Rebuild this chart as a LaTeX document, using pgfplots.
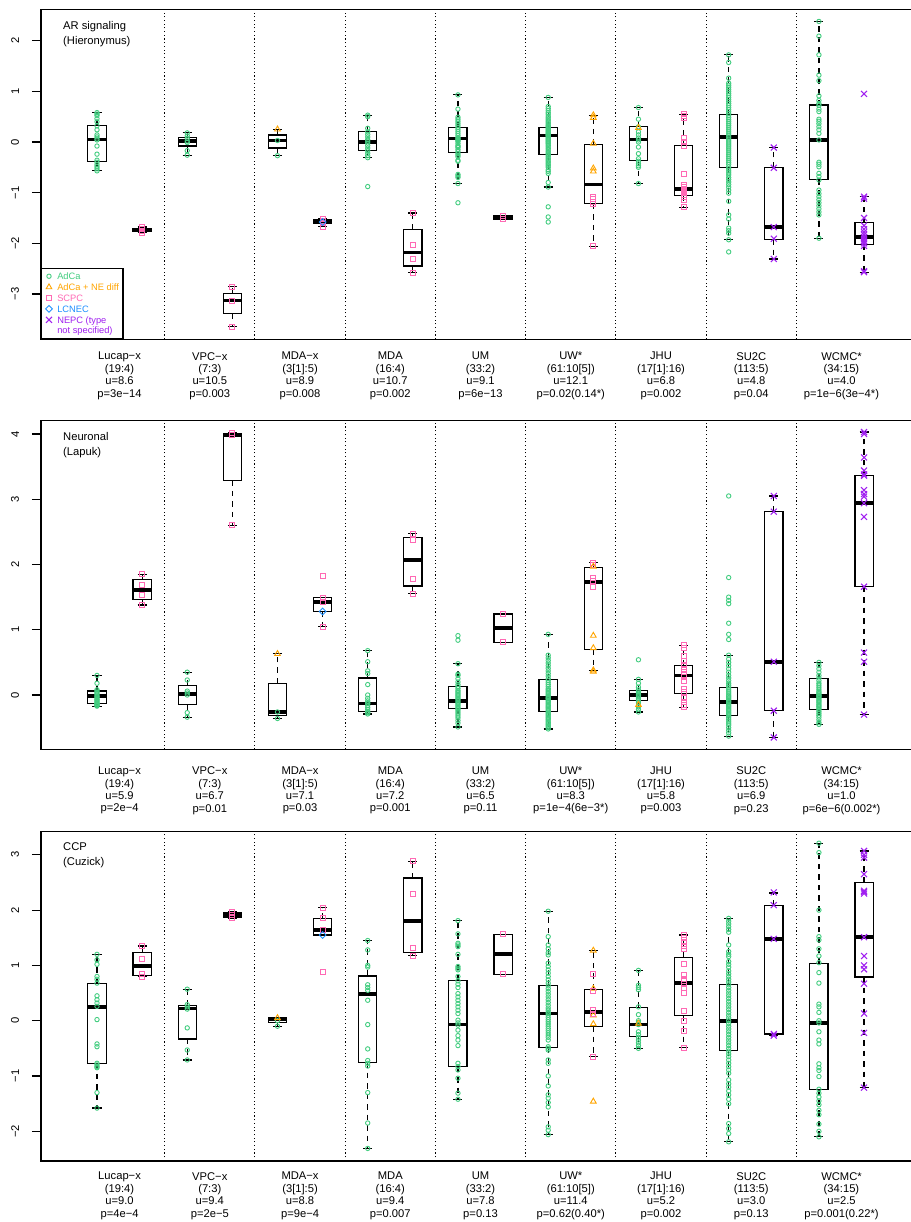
\documentclass[border=0pt]{standalone}
\usepackage{fontspec}
\setmainfont{Liberation Sans}
\usepackage{pgfplots}
\pgfplotsset{compat=1.18}
\usepgfplotslibrary{statistics}
\definecolor{cg}{HTML}{43CD80}
\definecolor{co}{HTML}{FFA500}
\definecolor{cp}{HTML}{FF69B4}
\definecolor{cb}{HTML}{1E90FF}
\definecolor{cv}{HTML}{A020F0}
\newcommand\tickf{\fontsize{11.2}{13}\selectfont}
\newcommand\lblf{\fontsize{11.2}{12.4}\selectfont}
\newcommand\titf{\fontsize{11.2}{15}\selectfont}
\newcommand\legf{\fontsize{9.3}{10.7}\selectfont}
\newcommand\ls{\rule[-3pt]{0pt}{11pt}}
\newcommand\pts[3]{\addplot[#1,forget plot] table[header=false,x expr=#2,y index=0,row sep=\\]{#3};}
\newcommand\bx[6]{\addplot[black,forget plot,boxplot prepared={draw position=#1,median=#2,upper quartile=#3,lower quartile=#4,upper whisker=#5,lower whisker=#6}] coordinates {};}
\pgfplotsset{
 pg/.style={only marks, mark=o, mark size=2.2pt, color=cg, mark options={line width=0.9pt, solid}},
 po/.style={only marks, mark=triangle, mark size=3.3pt, color=co, mark options={line width=0.9pt, solid}},
 pp/.style={only marks, mark=square, mark size=2.5pt, color=cp, mark options={line width=0.9pt, solid}},
 pb/.style={only marks, mark=square, mark size=2.4pt, color=cb, mark options={line width=0.9pt, rotate=45, solid}},
 pv/.style={only marks, mark=x, mark size=4.2pt, color=cv, mark options={line width=1.1pt, solid}},
 panel/.style={
  scale only axis, width=871pt, xmin=-0.241, xmax=19.063,
  axis line style={line width=1.2pt, black},
  tick pos=left, tick align=outside, major tick length=9pt,
  ytick style={line width=1.2pt, black},
  xtick={1.5,3.5,5.5,7.5,9.5,11.5,13.5,15.5,17.5},
  xtick style={draw=none},
  extra x ticks={2.5,4.5,6.5,8.5,10.5,12.5,14.5,16.5},
  extra x tick labels={},
  extra x tick style={grid=major, major grid style={black, line width=1.1pt, dash pattern=on 1.1pt off 2.6pt}},
  yticklabel style={xshift=-12.7pt, rotate=90, anchor=south, font=\tickf, inner sep=0pt},
  xticklabel style={align=center, anchor=north, font=\lblf, inner sep=0pt},
  boxplot/draw direction=y,
  boxplot/box extend=0.405, boxplot/whisker extend=0.2,
  boxplot/every box/.style={draw=black, line width=1.2pt, fill=none},
  boxplot/every median/.style={draw=black, line width=3.8pt},
  boxplot/draw/lower whisker/.code={%
   \draw[black, line width=1.2pt, dash pattern=on 5.5pt off 5pt]
     (boxplot box cs:\pgfplotsboxplotvalue{lower quartile},0.5) -- (boxplot box cs:\pgfplotsboxplotvalue{lower whisker},0.5);
   \draw[black, line width=1.2pt]
     (boxplot whisker cs:\pgfplotsboxplotvalue{lower whisker},0) -- (boxplot whisker cs:\pgfplotsboxplotvalue{lower whisker},1);
  },
  boxplot/draw/upper whisker/.code={%
   \draw[black, line width=1.2pt, dash pattern=on 5.5pt off 5pt]
     (boxplot box cs:\pgfplotsboxplotvalue{upper quartile},0.5) -- (boxplot box cs:\pgfplotsboxplotvalue{upper whisker},0.5);
   \draw[black, line width=1.2pt]
     (boxplot whisker cs:\pgfplotsboxplotvalue{upper whisker},0) -- (boxplot whisker cs:\pgfplotsboxplotvalue{upper whisker},1);
  },
 }
}
\begin{document}
\begin{tikzpicture}
\path[use as bounding box] (0pt,0pt) rectangle (910pt,1222pt);
% ================= Panel 1 =================
\begin{axis}[panel, at={(41pt,882.7pt)}, anchor=south west, height=330pt,
  ymin=-3.895, ymax=2.62, ytick={-3,-2,-1,0,1,2}, yticklabels={−3,−2,−1,0,1,2},
  xticklabel style={yshift=-3.7pt},
  xticklabels={{Lucap−x\\(19:4)\\u=8.6\\p=3e−14},{VPC−x\\(7:3)\\u=10.5\\p=0.003},{MDA−x\\(3[1]:5)\\u=8.9\\p=0.008},{MDA\\(16:4)\\u=10.7\\p=0.002},{UM\\(33:2)\\u=9.1\\p=6e−13},{UW*\\(61:10[5])\\u=12.1\\p=0.02(0.14*)},{JHU\\(17[1]:16)\\u=6.8\\p=0.002},{SU2C\\(113:5)\\u=4.8\\p=0.04},{WCMC*\\(34:15)\\u=4.0\\p=1e−6(3e−4*)}},
  legend style={at={(0,0)}, anchor=south west, draw=black, line width=1.2pt, fill=white, font=\legf, inner xsep=4pt, inner ysep=3pt, row sep=1pt, column sep=4.7pt, cells={anchor=west}, nodes={inner sep=0.2pt}},
  legend image code/.code={\draw[#1] plot coordinates {(0pt,0pt)};},
]
\pts{pg}{1}{0.58\\0.55\\0.52\\0.46\\0.40\\0.32\\0.24\\0.14\\0.10\\0.06\\0.04\\-0.08\\-0.24\\-0.36\\-0.40\\-0.45\\-0.49\\-0.53\\-0.57\\}
\pts{pp}{2}{-1.68\\-1.72\\-1.75\\-1.79\\}
\pts{pg}{3}{0.18\\0.12\\0.07\\0.02\\-0.01\\-0.17\\-0.26\\}
\pts{pp}{4}{-2.86\\-3.13\\-3.65\\}
\pts{pg}{5}{0.03\\-0.27\\}
\pts{po}{5}{0.25\\}
\pts{pp}{6}{-1.51\\-1.55\\-1.60\\-1.67\\}
\pts{pb}{6}{-1.58\\}
\pts{pg}{7}{0.53\\0.50\\0.27\\0.20\\0.15\\0.10\\0.05\\0.02\\-0.02\\-0.07\\-0.12\\-0.17\\-0.22\\-0.27\\-0.31\\-0.88\\}
\pts{pp}{8}{-1.40\\-2.04\\-2.31\\-2.58\\}
\pts{pg}{9}{0.93\\0.65\\0.49\\0.45\\0.41\\0.37\\0.33\\0.29\\0.25\\0.21\\0.17\\0.13\\0.09\\0.07\\0.05\\0.03\\0.01\\-0.03\\-0.07\\-0.09\\-0.11\\-0.15\\-0.19\\-0.23\\-0.26\\-0.29\\-0.36\\-0.38\\-0.64\\-0.67\\-0.70\\-0.82\\-1.20\\}
\pts{pp}{10}{-1.46\\-1.52\\}
\pts{pg}{11}{0.88\\0.70\\0.66\\0.62\\0.58\\0.55\\0.51\\0.48\\0.45\\0.42\\0.39\\0.36\\0.33\\0.31\\0.29\\0.27\\0.25\\0.23\\0.21\\0.19\\0.17\\0.15\\0.14\\0.13\\0.12\\0.10\\0.08\\0.06\\0.04\\0.02\\0.0\\-0.02\\-0.04\\-0.07\\-0.10\\-0.13\\-0.16\\-0.19\\-0.22\\-0.24\\-0.26\\-0.29\\-0.32\\-0.35\\-0.38\\-0.41\\-0.44\\-0.47\\-0.50\\-0.55\\-0.58\\-0.62\\-0.80\\-0.89\\-1.28\\-1.48\\-1.58\\}
\pts{po}{12}{0.53\\0.48\\-0.03\\-0.52\\-0.58\\}
\pts{pp}{12}{-1.08\\-1.13\\-1.18\\-1.22\\-2.06\\}
\pts{pg}{13}{0.68\\0.45\\0.30\\0.20\\0.14\\0.08\\0.04\\0.0\\-0.10\\-0.23\\-0.33\\-0.38\\-0.43\\-0.47\\-0.50\\-0.82\\}
\pts{po}{13}{0.28\\}
\pts{pp}{14}{0.55\\0.51\\0.47\\0.07\\0.01\\-0.07\\-0.64\\-0.85\\-0.89\\-0.93\\-0.96\\-1.00\\-1.04\\-1.08\\-1.15\\-1.29\\}
\pts{pg}{15}{1.72\\1.57\\1.26\\1.16\\1.12\\1.08\\1.04\\1.0\\0.96\\0.92\\0.88\\0.84\\0.80\\0.76\\0.72\\0.68\\0.64\\0.60\\0.56\\0.52\\0.48\\0.44\\0.40\\0.36\\0.32\\0.28\\0.24\\0.20\\0.16\\0.12\\0.08\\0.04\\0.0\\-0.04\\-0.08\\-0.12\\-0.16\\-0.20\\-0.24\\-0.28\\-0.32\\-0.36\\-0.40\\-0.44\\-0.49\\-0.53\\-0.57\\-0.61\\-0.65\\-0.70\\-0.74\\-0.79\\-0.84\\-0.89\\-0.95\\-1.01\\-1.17\\-1.44\\-1.52\\-1.70\\-1.75\\-1.80\\-1.93\\-2.17\\}
\pts{pv}{16}{-0.11\\-0.51\\-1.68\\-1.91\\-2.31\\}
\pts{pg}{17}{2.38\\2.09\\1.72\\1.32\\1.21\\0.91\\0.82\\0.76\\0.72\\0.65\\0.60\\0.45\\0.41\\0.36\\0.30\\0.24\\0.17\\0.04\\-0.40\\-0.44\\-0.49\\-0.62\\-0.68\\-0.75\\-0.95\\-1.02\\-1.08\\-1.14\\-1.20\\-1.26\\-1.32\\-1.38\\-1.44\\-1.90\\}
\pts{pv}{18}{0.95\\-1.08\\-1.12\\-1.50\\-1.65\\-1.72\\-1.78\\-1.83\\-1.88\\-1.92\\-1.96\\-2.00\\-2.05\\-2.55\\-2.57\\}
\bx{1}{0.05}{0.32}{-0.39}{0.58}{-0.57}
\bx{2}{-1.73}{-1.70}{-1.77}{-1.68}{-1.79}
\bx{3}{0.02}{0.09}{-0.08}{0.18}{-0.26}
\bx{4}{-3.13}{-2.99}{-3.39}{-2.86}{-3.65}
\bx{5}{0.03}{0.14}{-0.12}{0.25}{-0.27}
\bx{6}{-1.57}{-1.54}{-1.61}{-1.51}{-1.67}
\bx{7}{0.0}{0.20}{-0.17}{0.53}{-0.31}
\bx{8}{-2.18}{-1.72}{-2.45}{-1.40}{-2.58}
\bx{9}{0.07}{0.29}{-0.20}{0.93}{-0.82}
\bx{10}{-1.49}{-1.46}{-1.52}{-1.46}{-1.52}
\bx{11}{0.13}{0.28}{-0.24}{0.88}{-0.89}
\bx{12}{-0.84}{-0.05}{-1.22}{0.53}{-2.06}
\bx{13}{0.05}{0.30}{-0.36}{0.68}{-0.82}
\bx{14}{-0.93}{-0.07}{-1.06}{0.55}{-1.29}
\bx{15}{0.10}{0.55}{-0.50}{1.72}{-1.93}
\bx{16}{-1.68}{-0.51}{-1.92}{-0.11}{-2.31}
\bx{17}{0.04}{0.73}{-0.74}{2.38}{-1.90}
\bx{18}{-1.88}{-1.59}{-2.03}{-1.08}{-2.57}
\addlegendimage{pg}\addlegendentry{\ls\textcolor{cg}{AdCa}}
\addlegendimage{po}\addlegendentry{\ls\textcolor{co}{AdCa + NE diff}}
\addlegendimage{pp}\addlegendentry{\ls\textcolor{cp}{SCPC}}
\addlegendimage{pb}\addlegendentry{\ls\textcolor{cb}{LCNEC}}
\addlegendimage{pv}\addlegendentry{\ls\textcolor{cv}{NEPC (type}}
\addlegendimage{empty legend}\addlegendentry{\ls\textcolor{cv}{not specified)}}
\node[anchor=north west, align=left, font=\titf, inner sep=0pt, xshift=22pt, yshift=-11.7pt] at (rel axis cs:0,1) {AR signaling\\(Hieronymus)};
\end{axis}
% ================= Panel 2 =================
\begin{axis}[panel, at={(41pt,472.5pt)}, anchor=south west, height=328.8pt,
  ymin=-0.835, ymax=4.204, ytick={0,1,2,3,4}, yticklabels={0,1,2,3,4},
  xticklabel style={yshift=-8.3pt},
  xticklabels={{Lucap−x\\(19:4)\\u=5.9\\p=2e−4},{VPC−x\\(7:3)\\u=6.7\\p=0.01},{MDA−x\\(3[1]:5)\\u=7.1\\p=0.03},{MDA\\(16:4)\\u=7.2\\p=0.001},{UM\\(33:2)\\u=6.5\\p=0.11},{UW*\\(61:10[5])\\u=8.3\\p=1e−4(6e−3*)},{JHU\\(17[1]:16)\\u=5.8\\p=0.003},{SU2C\\(113:5)\\u=6.9\\p=0.23},{WCMC*\\(34:15)\\u=1.0\\p=6e−6(0.002*)}},
]
\pts{pg}{1}{0.30\\0.18\\0.08\\0.06\\0.04\\0.02\\0.0\\-0.02\\-0.03\\-0.05\\-0.07\\-0.08\\-0.10\\-0.12\\-0.13\\-0.14\\-0.15\\-0.16\\-0.17\\}
\pts{pp}{2}{1.85\\1.68\\1.53\\1.38\\}
\pts{pg}{3}{0.35\\0.23\\0.06\\0.03\\0.0\\-0.27\\-0.34\\}
\pts{pp}{4}{4.02\\3.98\\2.60\\}
\pts{pg}{5}{-0.26\\-0.36\\}
\pts{po}{5}{0.63\\}
\pts{pp}{6}{1.83\\1.49\\1.43\\1.05\\}
\pts{pb}{6}{1.28\\}
\pts{pg}{7}{0.68\\0.51\\0.37\\0.33\\0.16\\0.0\\-0.05\\-0.09\\-0.12\\-0.13\\-0.16\\-0.19\\-0.22\\-0.25\\-0.27\\-0.29\\}
\pts{pp}{8}{2.47\\2.38\\1.78\\1.55\\}
\pts{pg}{9}{0.91\\0.84\\0.48\\0.32\\0.30\\0.25\\0.20\\0.16\\0.13\\0.10\\0.07\\0.05\\0.03\\0.01\\-0.01\\-0.03\\-0.05\\-0.07\\-0.09\\-0.11\\-0.13\\-0.15\\-0.17\\-0.19\\-0.21\\-0.23\\-0.26\\-0.29\\-0.32\\-0.35\\-0.39\\-0.43\\-0.49\\}
\pts{pp}{10}{1.24\\0.81\\}
\pts{pg}{11}{0.93\\0.61\\0.57\\0.53\\0.49\\0.45\\0.41\\0.37\\0.33\\0.29\\0.25\\0.22\\0.19\\0.16\\0.13\\0.10\\0.08\\0.06\\0.04\\0.02\\0.0\\-0.02\\-0.04\\-0.05\\-0.06\\-0.08\\-0.10\\-0.12\\-0.14\\-0.16\\-0.18\\-0.20\\-0.22\\-0.24\\-0.26\\-0.28\\-0.30\\-0.32\\-0.34\\-0.36\\-0.38\\-0.40\\-0.42\\-0.44\\-0.46\\-0.48\\-0.50\\-0.52\\}
\pts{pp}{12}{2.03\\2.00\\1.80\\1.75\\1.66\\}
\pts{po}{12}{1.97\\0.91\\0.72\\0.38\\0.36\\}
\pts{pg}{13}{0.54\\0.24\\0.18\\0.12\\0.08\\0.05\\0.03\\0.01\\-0.01\\-0.03\\-0.06\\-0.09\\-0.12\\-0.18\\-0.22\\-0.26\\}
\pts{po}{13}{-0.15\\}
\pts{pp}{14}{0.76\\0.72\\0.60\\0.52\\0.46\\0.40\\0.35\\0.31\\0.28\\0.22\\0.10\\0.04\\-0.04\\-0.10\\-0.15\\-0.19\\}
\pts{pg}{15}{3.05\\1.80\\1.50\\1.45\\1.40\\1.10\\0.93\\0.85\\0.61\\0.55\\0.50\\0.45\\0.40\\0.35\\0.30\\0.26\\0.22\\0.18\\0.15\\0.12\\0.09\\0.06\\0.03\\0.0\\-0.02\\-0.04\\-0.06\\-0.08\\-0.10\\-0.12\\-0.14\\-0.16\\-0.18\\-0.20\\-0.22\\-0.24\\-0.26\\-0.28\\-0.30\\-0.32\\-0.34\\-0.37\\-0.40\\-0.43\\-0.46\\-0.50\\-0.54\\-0.58\\-0.63\\}
\pts{pv}{16}{3.05\\2.81\\0.51\\-0.24\\-0.65\\}
\pts{pg}{17}{0.50\\0.45\\0.40\\0.35\\0.30\\0.26\\0.22\\0.18\\0.15\\0.12\\0.09\\0.06\\0.04\\0.02\\0.0\\-0.01\\-0.02\\-0.04\\-0.06\\-0.08\\-0.10\\-0.12\\-0.14\\-0.16\\-0.18\\-0.20\\-0.22\\-0.25\\-0.28\\-0.31\\-0.34\\-0.38\\-0.42\\-0.45\\}
\pts{pv}{18}{4.03\\4.00\\3.64\\3.44\\3.38\\3.36\\3.14\\3.08\\3.04\\2.94\\2.73\\1.66\\0.65\\0.51\\-0.30\\}
\bx{1}{-0.02}{0.06}{-0.13}{0.30}{-0.17}
\bx{2}{1.61}{1.77}{1.46}{1.85}{1.38}
\bx{3}{0.01}{0.15}{-0.15}{0.35}{-0.34}
\bx{4}{3.98}{4.00}{3.29}{4.02}{2.60}
\bx{5}{-0.26}{0.18}{-0.31}{0.63}{-0.36}
\bx{6}{1.43}{1.49}{1.28}{1.49}{1.05}
\bx{7}{-0.13}{0.26}{-0.25}{0.68}{-0.29}
\bx{8}{2.07}{2.41}{1.67}{2.47}{1.55}
\bx{9}{-0.09}{0.13}{-0.21}{0.48}{-0.49}
\bx{10}{1.03}{1.24}{0.81}{1.24}{0.81}
\bx{11}{-0.05}{0.24}{-0.25}{0.93}{-0.52}
\bx{12}{1.73}{1.95}{0.70}{2.03}{0.37}
\bx{13}{0.0}{0.07}{-0.08}{0.24}{-0.26}
\bx{14}{0.30}{0.45}{0.02}{0.76}{-0.19}
\bx{15}{-0.11}{0.11}{-0.32}{0.61}{-0.63}
\bx{16}{0.51}{2.81}{-0.24}{3.05}{-0.65}
\bx{17}{-0.01}{0.25}{-0.22}{0.50}{-0.45}
\bx{18}{2.94}{3.36}{1.66}{4.03}{-0.30}
\node[anchor=north west, align=left, font=\titf, inner sep=0pt, xshift=22pt, yshift=-11pt] at (rel axis cs:0,1) {Neuronal\\(Lapuk)};
\end{axis}
% ================= Panel 3 =================
\begin{axis}[panel, at={(41pt,61pt)}, anchor=south west, height=329.3pt,
  ymin=-2.537, ymax=3.418, ytick={-2,-1,0,1,2,3}, yticklabels={−2,−1,0,1,2,3},
  xticklabel style={yshift=-2pt},
  xticklabels={{Lucap−x\\(19:4)\\u=9.0\\p=4e−4},{VPC−x\\(7:3)\\u=9.4\\p=2e−5},{MDA−x\\(3[1]:5)\\u=8.8\\p=9e−4},{MDA\\(16:4)\\u=9.4\\p=0.007},{UM\\(33:2)\\u=7.8\\p=0.13},{UW*\\(61:10[5])\\u=11.4\\p=0.62(0.40*)},{JHU\\(17[1]:16)\\u=5.2\\p=0.002},{SU2C\\(113:5)\\u=3.0\\p=0.13},{WCMC*\\(34:15)\\u=2.5\\p=0.001(0.22*)}},
]
\pts{pg}{1}{1.20\\1.10\\1.02\\0.80\\0.75\\0.68\\0.45\\0.38\\0.32\\0.26\\0.02\\-0.42\\-0.47\\-0.77\\-0.80\\-0.83\\-0.85\\-1.30\\-1.58\\}
\pts{pp}{2}{1.35\\1.12\\0.85\\0.80\\}
\pts{pg}{3}{0.57\\0.29\\0.25\\0.21\\-0.13\\-0.53\\-0.71\\}
\pts{pp}{4}{1.97\\1.91\\1.85\\}
\pts{pg}{5}{0.0\\-0.10\\}
\pts{po}{5}{0.05\\}
\pts{pp}{6}{2.04\\1.85\\1.64\\0.89\\}
\pts{pb}{6}{1.55\\}
\pts{pg}{7}{1.45\\1.28\\1.00\\0.97\\0.65\\0.60\\0.55\\0.37\\-0.07\\-0.51\\-0.72\\-0.77\\-0.82\\-1.30\\-1.85\\-2.31\\}
\pts{pp}{8}{2.88\\2.29\\1.31\\1.18\\}
\pts{pg}{9}{1.81\\1.57\\1.40\\1.37\\1.34\\1.20\\0.98\\0.95\\0.92\\0.80\\0.72\\0.66\\0.60\\0.49\\0.43\\0.37\\0.31\\0.25\\0.19\\0.13\\0.01\\-0.04\\-0.08\\-0.17\\-0.27\\-0.35\\-0.45\\-0.77\\-0.83\\-0.89\\-1.04\\-1.31\\-1.42\\}
\pts{pp}{10}{1.56\\0.84\\}
\pts{pg}{11}{1.98\\1.52\\1.37\\1.30\\1.23\\1.19\\1.04\\0.98\\0.92\\0.86\\0.80\\0.74\\0.68\\0.63\\0.58\\0.53\\0.48\\0.43\\0.38\\0.33\\0.28\\0.23\\0.19\\0.15\\0.13\\0.10\\0.06\\0.02\\-0.02\\-0.06\\-0.10\\-0.14\\-0.18\\-0.22\\-0.26\\-0.30\\-0.35\\-0.47\\-0.50\\-0.53\\-0.71\\-0.77\\-1.00\\-1.18\\-1.34\\-1.40\\-1.48\\-1.56\\-1.92\\-1.98\\-2.06\\}
\pts{po}{12}{1.27\\0.58\\0.10\\-0.06\\-1.46\\}
\pts{pp}{12}{0.85\\0.53\\0.20\\0.13\\-0.65\\}
\pts{pg}{13}{0.91\\0.64\\0.60\\0.56\\0.25\\0.11\\0.0\\-0.03\\-0.07\\-0.20\\-0.25\\-0.30\\-0.35\\-0.40\\-0.45\\-0.50\\}
\pts{po}{13}{-0.05\\}
\pts{pp}{14}{1.55\\1.50\\1.42\\1.35\\1.30\\1.03\\0.82\\0.75\\0.72\\0.66\\0.60\\0.50\\0.18\\0.0\\-0.18\\-0.49\\}
\pts{pg}{15}{1.85\\1.80\\1.75\\1.70\\1.65\\1.60\\1.37\\1.25\\1.20\\1.16\\1.07\\1.02\\0.97\\0.90\\0.85\\0.80\\0.75\\0.70\\0.65\\0.60\\0.55\\0.50\\0.45\\0.40\\0.35\\0.30\\0.25\\0.20\\0.15\\0.10\\0.05\\0.0\\-0.05\\-0.10\\-0.15\\-0.20\\-0.25\\-0.30\\-0.35\\-0.40\\-0.45\\-0.50\\-0.55\\-0.60\\-0.65\\-0.71\\-0.77\\-0.83\\-0.89\\-0.95\\-1.07\\-1.14\\-1.20\\-1.27\\-1.34\\-1.42\\-1.50\\-1.86\\-1.95\\-2.04\\-2.19\\}
\pts{pv}{16}{2.32\\2.09\\1.48\\-0.24\\-0.27\\}
\pts{pg}{17}{3.21\\3.04\\2.00\\1.52\\1.46\\1.30\\1.17\\1.05\\0.87\\0.68\\0.30\\0.25\\0.15\\0.0\\-0.04\\-0.20\\-0.35\\-0.42\\-0.78\\-0.85\\-0.90\\-1.01\\-1.24\\-1.31\\-1.38\\-1.45\\-1.52\\-1.62\\-1.70\\-1.87\\-2.00\\-2.10\\}
\pts{pv}{18}{3.07\\3.00\\2.95\\2.65\\2.35\\2.33\\2.30\\1.51\\1.17\\1.00\\0.93\\0.67\\0.13\\-0.22\\-1.21\\}
\bx{1}{0.25}{0.68}{-0.77}{1.20}{-1.58}
\bx{2}{0.99}{1.24}{0.82}{1.35}{0.80}
\bx{3}{0.22}{0.28}{-0.33}{0.57}{-0.71}
\bx{4}{1.91}{1.95}{1.86}{1.97}{1.85}
\bx{5}{0.02}{0.05}{-0.03}{0.05}{-0.10}
\bx{6}{1.64}{1.85}{1.55}{2.04}{1.55}
\bx{7}{0.48}{0.81}{-0.75}{1.45}{-2.31}
\bx{8}{1.80}{2.58}{1.24}{2.88}{1.18}
\bx{9}{-0.07}{0.72}{-0.83}{1.81}{-1.42}
\bx{10}{1.20}{1.56}{0.84}{1.56}{0.84}
\bx{11}{0.13}{0.63}{-0.49}{1.98}{-2.06}
\bx{12}{0.16}{0.57}{-0.10}{1.27}{-0.65}
\bx{13}{-0.07}{0.24}{-0.29}{0.91}{-0.50}
\bx{14}{0.68}{1.15}{0.09}{1.55}{-0.49}
\bx{15}{-0.01}{0.65}{-0.54}{1.85}{-2.19}
\bx{16}{1.48}{2.09}{-0.24}{2.31}{-0.27}
\bx{17}{-0.04}{1.03}{-1.24}{3.21}{-2.10}
\bx{18}{1.51}{2.50}{0.79}{3.07}{-1.21}
\node[anchor=north west, align=left, font=\titf, inner sep=0pt, xshift=22pt, yshift=-11pt] at (rel axis cs:0,1) {CCP\\(Cuzick)};
\end{axis}
\end{tikzpicture}
\end{document}
